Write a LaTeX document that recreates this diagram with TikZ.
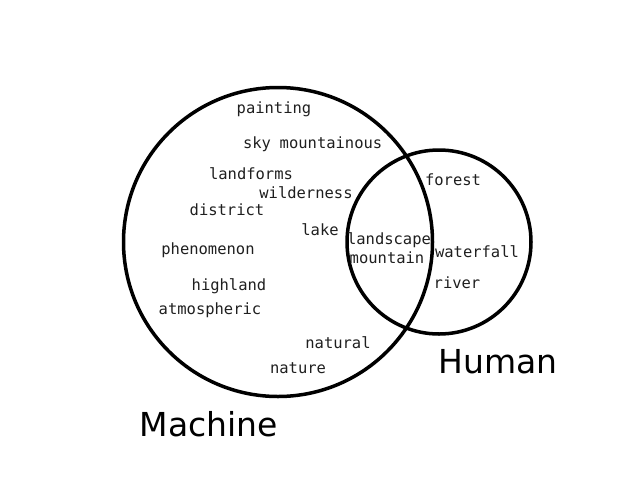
\documentclass[tikz,border=0pt]{standalone}
\usepackage{fontspec}
\setmonofont{DejaVu Sans Mono}
\setsansfont{DejaVu Sans}

\begin{document}
\begin{tikzpicture}[x=1pt,y=-1pt]
	\tikzset{word/.style={inner sep=0pt,yshift=-1.5pt,text=black!88,font=\ttfamily\fontsize{15.5}{16}\selectfont},
		setlabel/.style={inner sep=0pt,font=\sffamily\fontsize{33}{36}\selectfont},
		setcircle/.style={draw,circle,line width=3.5pt,inner sep=0pt,outer sep=0pt}
	}
	\useasboundingbox (0,0) rectangle (640,480);
    \node [setcircle,minimum size=309pt] (machine) at (278,242) {};
    \node [setcircle,minimum size=184pt] (human) at (439,242) {};

    \node [word] (painting) at (274,108) {painting};
    \node [word] (sky) at (257,143) {sky};
    \node [word] (mountainous) at (331,141) {mountainous};
    \node [word] (landforms) at (251,172) {landforms};
    \node [word] (wilderness) at (306,191) {wilderness};
    \node [word] (district) at (227,208) {district};
    \node [word] (lake) at (320,228) {lake};
    \node [word] (phenomenon) at (208,249) {phenomenon};
    \node [word] (highland) at (229,285) {highland};
    \node [word] (atmospheric) at (210,309) {atmospheric};
    \node [word] (natural) at (338,341) {natural};
    \node [word] (nature) at (298,367) {nature};
    \node [word] (landscape) at (389,239) {landscape};
    \node [word] (mountain) at (387,256) {mountain};
    \node [word] (forest) at (453,178) {forest};
    \node [word] (waterfall) at (477,250) {waterfall};
    \node [word] (river) at (457,281) {river};

    \node [setlabel] (machinelabel) at (209,424) {Machine};
    \node [setlabel] (humanlabel) at (498,362) {Human};
	\end{tikzpicture}
\end{document}
